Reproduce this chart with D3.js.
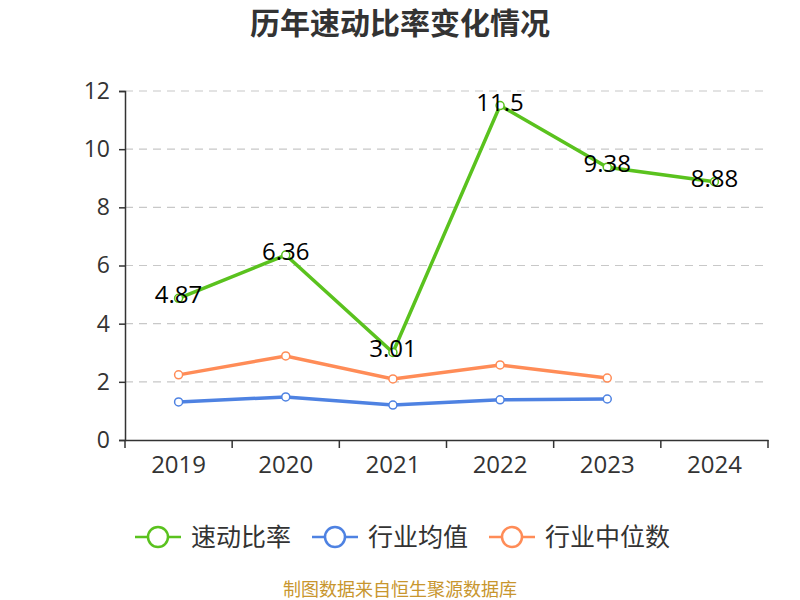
<!DOCTYPE html>
<html>
<head>
<meta charset="utf-8">
<script src="https://cdn.jsdelivr.net/npm/d3@7"></script>
<style>
  body { margin: 0; background: #fff; }
  text { font-family: "Open Sans", "Noto Sans CJK SC", sans-serif; }
</style>
</head>
<body>
<svg width="800" height="600"></svg>
<script>
// data
const years = ["2019", "2020", "2021", "2022", "2023", "2024"];
const quickRatio = [4.87, 6.36, 3.01, 11.5, 9.38, 8.88];
const industryAvg = [1.31, 1.48, 1.20, 1.38, 1.41];
const industryMedian = [2.24, 2.89, 2.10, 2.58, 2.13];
const yTicks = [0, 2, 4, 6, 8, 10, 12];
const seriesNames = ["速动比率", "行业均值", "行业中位数"];
const colors = ["#5ac21e", "#4e82e2", "#ff8c57"];

const svg = d3.select("svg");
const margin = {left: 125, right: 32, top: 91, bottom: 160};
const width = 800 - margin.left - margin.right,
  height = 600 - margin.top - margin.bottom;

const x = d3.scaleBand().domain(years).range([0, width]);
const y = d3.scaleLinear().domain([0, 12]).range([height, 0]);

// title
svg.append("text")
  .attr("x", 400).attr("y", 34)
  .attr("text-anchor", "middle")
  .style("font-family", "'Noto Sans CJK SC', sans-serif")
  .style("font-size", "30px").style("font-weight", "bold")
  .attr("fill", "#333")
  .text("历年速动比率变化情况");

const g = svg.append("g").attr("transform", `translate(${margin.left},${margin.top})`);

// grid
g.selectAll(".grid")
  .data(yTicks.filter(d => d > 0))
  .enter().append("line")
  .attr("x1", 0).attr("x2", width)
  .attr("y1", d => y(d)).attr("y2", d => y(d))
  .attr("stroke", "#c8c8c8")
  .attr("stroke-dasharray", "8,6")
  .attr("stroke-width", 1.2);

// y axis
const yAxis = g.append("g")
  .call(d3.axisLeft(y).tickValues(yTicks).tickSize(6).tickPadding(9));
yAxis.select(".domain").attr("stroke", "#333").attr("stroke-width", 1.5);
yAxis.selectAll(".tick line").attr("stroke", "#333").attr("stroke-width", 1.5);
yAxis.selectAll("text").attr("fill", "#333").style("font-size", "23px");

// x axis
const xAxis = g.append("g")
  .attr("transform", `translate(0,${height})`)
  .call(d3.axisBottom(x).tickSize(0).tickPadding(16));
xAxis.select(".domain").attr("stroke", "#333").attr("stroke-width", 1.5);
xAxis.selectAll("text").attr("fill", "#333").style("font-size", "24px");
xAxis.selectAll(".bound")
  .data(d3.range(years.length + 1))
  .enter().append("line")
  .attr("x1", i => i * x.bandwidth()).attr("x2", i => i * x.bandwidth())
  .attr("y1", 0).attr("y2", 8)
  .attr("stroke", "#333").attr("stroke-width", 1.5);

const cx = i => x(years[i]) + x.bandwidth() / 2;
const line = d3.line().x((d, i) => cx(i)).y(d => y(d));

[quickRatio, industryAvg, industryMedian].forEach((vals, s) => {
  g.append("path")
    .datum(vals)
    .attr("fill", "none")
    .attr("stroke", colors[s])
    .attr("stroke-width", 3.5)
    .attr("d", line);
  g.selectAll(".pt" + s)
    .data(vals)
    .enter().append("circle")
    .attr("cx", (d, i) => cx(i)).attr("cy", d => y(d))
    .attr("r", 4)
    .attr("fill", "#fff")
    .attr("stroke", colors[s])
    .attr("stroke-width", 1.5);
});

// value labels
g.selectAll(".lbl")
  .data(quickRatio)
  .enter().append("text")
  .attr("x", (d, i) => cx(i)).attr("y", d => y(d) + 5)
  .attr("text-anchor", "middle")
  .style("font-size", "24px")
  .attr("fill", "#000")
  .text(d => d);

// legend
const legendX = [135, 312, 489];
seriesNames.forEach((name, i) => {
  const lg = svg.append("g").attr("transform", `translate(${legendX[i]},537)`);
  lg.append("line").attr("x1", 0).attr("x2", 46).attr("y1", 0).attr("y2", 0)
    .attr("stroke", colors[i]).attr("stroke-width", 2.5);
  lg.append("circle").attr("cx", 23).attr("cy", 0).attr("r", 10)
    .attr("fill", "#fff").attr("stroke", colors[i]).attr("stroke-width", 2.5);
  lg.append("text").attr("x", 56).attr("y", 9)
    .style("font-family", "'Noto Sans CJK SC', sans-serif")
    .style("font-size", "25px").attr("fill", "#333")
    .text(name);
});

// footer
svg.append("text")
  .attr("x", 400).attr("y", 596)
  .attr("text-anchor", "middle")
  .style("font-family", "'Noto Sans CJK SC', sans-serif")
  .style("font-size", "18px")
  .attr("fill", "#c8962e")
  .text("制图数据来自恒生聚源数据库");
</script>
</body>
</html>
